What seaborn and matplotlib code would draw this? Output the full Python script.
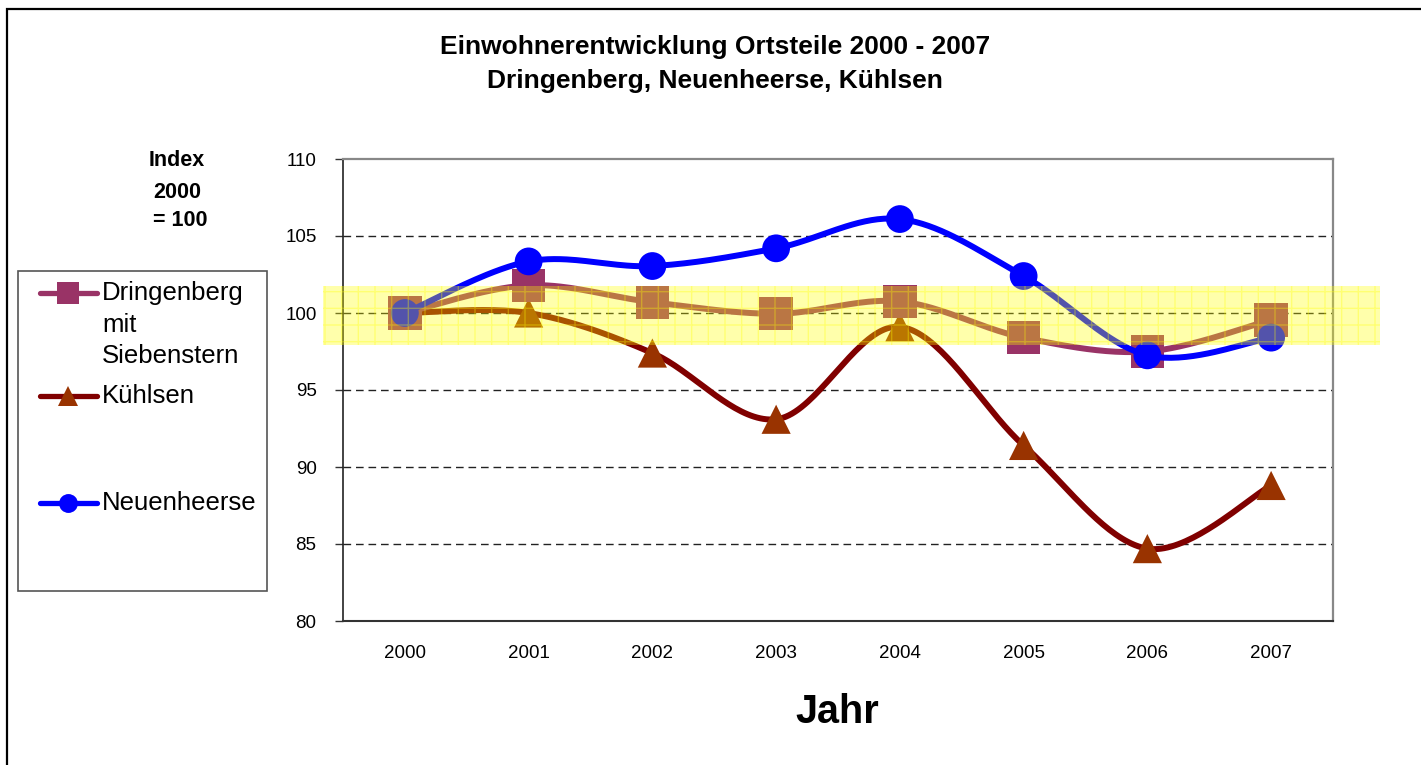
import numpy as np
import pandas as pd
import matplotlib
matplotlib.use("Agg")
import matplotlib.pyplot as plt
import seaborn as sns
from matplotlib.patches import Rectangle
from matplotlib.lines import Line2D

#-------------------------------------------------------------------------

# Data (index 2000 = 100)
years = ["2000", "2001", "2002", "2003", "2004", "2005", "2006", "2007"]
dringenberg = [100.0, 101.8, 100.7, 99.95, 100.75, 98.4, 97.5, 99.55]
kuehlsen = [100.0, 100.0, 97.4, 93.1, 99.1, 91.4, 84.7, 88.8]
neuenheerse = [100.0, 103.35, 103.05, 104.2, 106.1, 102.4, 97.25, 98.4]

series_names = ["Dringenberg", "Kühlsen", "Neuenheerse"]

#-------------------------------------------------------------------------

W, H = 1421, 765


def fx(px):
    return px / W


def fy(py):
    return 1 - py / H


# Excel-like smoothed line (cubic bezier through the points)
def smooth_curve(values, n=40):
    pts = np.column_stack([np.arange(len(values)), values]).astype(float)
    padded = np.vstack([pts[0], pts, pts[-1]])
    t = np.linspace(0, 1, n)[:, None]
    out = []
    for i in range(len(pts) - 1):
        p0, p1, p2, p3 = padded[i], padded[i + 1], padded[i + 2], padded[i + 3]
        c1 = p1 + (p2 - p0) / 6
        c2 = p2 - (p3 - p1) / 6
        seg = (1 - t) ** 3 * p1 + 3 * (1 - t) ** 2 * t * c1 + 3 * (1 - t) * t ** 2 * c2 + t ** 3 * p2
        out.append(seg if i == 0 else seg[1:])
    return np.vstack(out)


def main():
    sns.set_style("white")
    plt.rcParams['font.family'] = ['Liberation Sans', 'DejaVu Sans']
    plt.rcParams['text.color'] = 'black'
    plt.rcParams['xtick.color'] = 'black'
    plt.rcParams['ytick.color'] = 'black'
    plt.rcParams['axes.labelcolor'] = 'black'

    fig = plt.figure(figsize=(W / 100, H / 100), dpi=100)
    ax = fig.add_axes([fx(343), fy(621), fx(1333) - fx(343), fy(159) - fy(621)])

    styles = {
        "Dringenberg": dict(vals=dringenberg, line="#993366", face="#993366", marker="s", ms=24, z=3),
        "Kühlsen": dict(vals=kuehlsen, line="#800000", face="#993300", marker="^", ms=21, z=2),
        "Neuenheerse": dict(vals=neuenheerse, line="#0000FF", face="#0000FF", marker="o", ms=20, z=4),
    }

    for name in series_names:
        st = styles[name]
        curve = smooth_curve(st["vals"])
        df = pd.DataFrame({"x": curve[:, 0], "y": curve[:, 1]})
        sns.lineplot(data=df, x="x", y="y", sort=False, estimator=None, color=st["line"],
                     linewidth=4.3, ax=ax, zorder=st["z"])
        sns.scatterplot(x=np.arange(len(years)), y=st["vals"], marker=st["marker"],
                        s=st["ms"] ** 2, color=st["face"], edgecolor="none", linewidth=0,
                        ax=ax, zorder=st["z"] + 0.5)

    # yellow highlight band around 100
    ax.axhspan(97.9, 101.75, xmin=-0.02, xmax=1.047, facecolor="#FFFF00", edgecolor="#FFFF00",
               alpha=0.33, hatch="+", linewidth=0, zorder=6, clip_on=False)

    # axes
    ax.set_xlim(-0.5, 7.5)
    ax.set_ylim(80, 110)
    ax.set_xticks(range(len(years)))
    ax.set_xticklabels(years)
    ax.set_xticks(np.arange(-0.5, 8.0, 1.0), minor=True)
    ax.tick_params(axis="x", which="major", length=0, pad=17, labelsize=13.5, labelcolor="black")
    ax.tick_params(axis="x", which="minor", length=5, width=1, direction="out", color="#333333")
    ax.set_yticks(range(80, 111, 5))
    ax.tick_params(axis="y", length=6, width=1, direction="out", left=True, pad=13,
                   labelsize=13.5, color="#333333", labelcolor="black")
    ax.set_xlabel("")
    ax.set_ylabel("")

    for yv in [85, 90, 95, 100, 105]:
        ax.axhline(yv, color="#222222", linewidth=1.0, linestyle=(0, (5.5, 3.5)), zorder=1)

    ax.spines["left"].set_color("#222222")
    ax.spines["left"].set_linewidth(1.2)
    ax.spines["bottom"].set_color("#333333")
    ax.spines["bottom"].set_linewidth(1.5)
    ax.spines["top"].set_color("#888888")
    ax.spines["top"].set_linewidth(1.6)
    ax.spines["right"].set_color("#888888")
    ax.spines["right"].set_linewidth(1.6)
    for sp in ax.spines.values():
        sp.set_visible(True)

    # titles and labels
    fig.text(0.503, fy(47), "Einwohnerentwicklung Ortsteile 2000 - 2007", ha="center", va="center",
             fontsize=19, fontweight="bold")
    fig.text(0.503, fy(81), "Dringenberg, Neuenheerse, Kühlsen", ha="center", va="center",
             fontsize=19, fontweight="bold")
    fig.text(fx(837), fy(712), "Jahr", ha="center", va="center", fontsize=28.5, fontweight="bold")
    fig.text(fx(177), fy(160), "Index", ha="center", va="center", fontsize=15.5, fontweight="bold")
    fig.text(fx(177), fy(193), "2000", ha="center", va="center", fontsize=15.5, fontweight="bold")
    fig.text(fx(180), fy(221), "= 100", ha="center", va="center", fontsize=15.5, fontweight="bold")

    # legend box drawn by hand (Excel style)
    fig.patches.append(Rectangle((fx(18), fy(591)), fx(267) - fx(18), fy(271) - fy(591),
                                 transform=fig.transFigure, facecolor="white",
                                 edgecolor="#555555", linewidth=1.2, zorder=1))
    legend_rows = {"Dringenberg": 293, "Kühlsen": 396, "Neuenheerse": 503}
    for name in series_names:
        st = styles[name]
        yy = fy(legend_rows[name])
        fig.lines.append(Line2D([fx(40), fx(97)], [yy, yy], transform=fig.transFigure,
                                color=st["line"], linewidth=3.8, solid_capstyle="round", zorder=2))
        fig.lines.append(Line2D([fx(68)], [yy], transform=fig.transFigure, marker=st["marker"],
                                markersize=st["ms"] * 0.68, markerfacecolor=st["face"],
                                markeredgewidth=0, linestyle="none", zorder=3))
    fig.text(fx(102), fy(293), "Dringenberg", ha="left", va="center", fontsize=18.5)
    fig.text(fx(102), fy(325), "mit", ha="left", va="center", fontsize=18.5)
    fig.text(fx(102), fy(356), "Siebenstern", ha="left", va="center", fontsize=18.5)
    fig.text(fx(102), fy(396), "Kühlsen", ha="left", va="center", fontsize=18.5)
    fig.text(fx(102), fy(503), "Neuenheerse", ha="left", va="center", fontsize=18.5)

    # chart area border
    fig.patches.append(Rectangle((fx(7), -0.1), 1.2, fy(9) + 0.1, transform=fig.transFigure,
                                 facecolor="none", edgecolor="black", linewidth=1.6, zorder=0))

    fig.savefig("out.png", dpi=100)


if __name__ == '__main__':
    main()
